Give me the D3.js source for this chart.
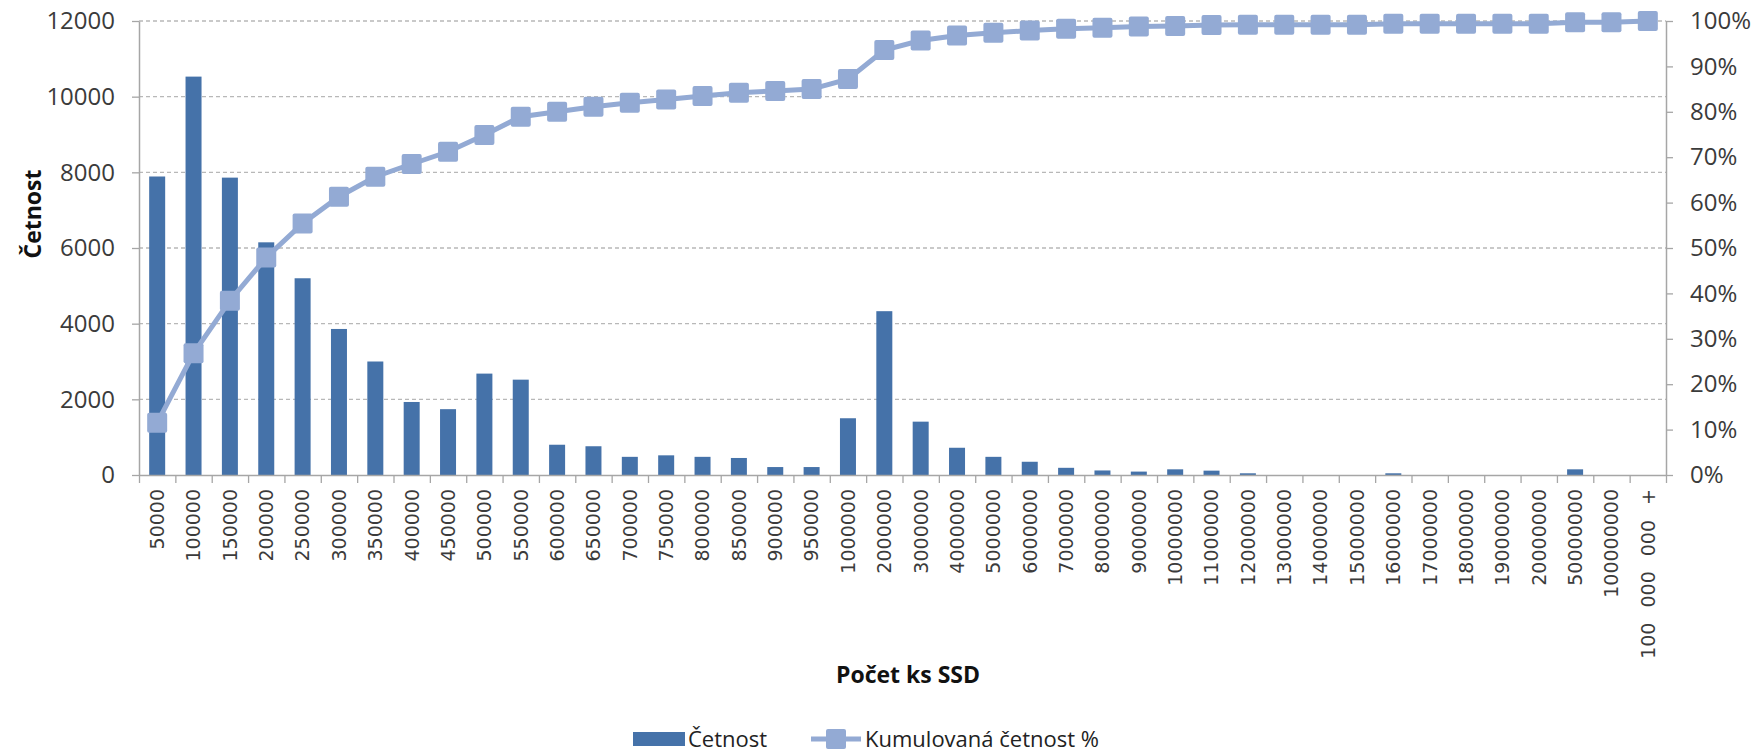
<!DOCTYPE html>
<html>
<head>
<meta charset="utf-8">
<script src="https://cdn.jsdelivr.net/npm/d3@7"></script>
<style>
  body { margin: 0; background: #fff; }
  svg { display: block; }
</style>
</head>
<body>
<svg id="chart"></svg>
<script>
// categories - Počet ks SSD
const categories = ['50000','100000','150000','200000','250000','300000','350000','400000','450000','500000',
  '550000','600000','650000','700000','750000','800000','850000','900000','950000','1000000',
  '2000000','3000000','4000000','5000000','6000000','7000000','8000000','9000000','10000000','11000000',
  '12000000','13000000','14000000','15000000','16000000','17000000','18000000','19000000','20000000','50000000',
  '100000000','100 000 000 +']

// četnost (bars, left axis)
const counts = [7890, 10530, 7860, 6150, 5200, 3860, 3000, 1930, 1740, 2680,
  2520, 800, 760, 480, 520, 480, 450, 210, 210, 1500,
  4330, 1410, 720, 480, 350, 190, 120, 90, 150, 115,
  45, 0, 0, 0, 45, 0, 0, 0, 0, 150,
  0, 0]

// kumulovaná četnost % (line, right axis)
const cumulative = [11.5, 26.8, 38.4, 47.9, 55.4, 61.3, 65.7, 68.5, 71.2, 74.9,
  78.9, 80.0, 81.1, 82.0, 82.7, 83.5, 84.2, 84.6, 85.0, 87.2,
  93.6, 95.7, 96.8, 97.4, 97.9, 98.3, 98.5, 98.8, 98.9, 99.1,
  99.2, 99.2, 99.2, 99.2, 99.4, 99.4, 99.4, 99.4, 99.4, 99.7,
  99.7, 100]

const leftTicks = [0, 2000, 4000, 6000, 8000, 10000, 12000]
const rightTicks = [0, 10, 20, 30, 40, 50, 60, 70, 80, 90, 100]

const seriesNames = ['Četnost', 'Kumulovaná četnost %']
const xTitle = 'Počet ks SSD'
const yTitle = 'Četnost'

// canvas
const w = 1754
const h = 754
const plotLeft = 139, plotRight = 1666, plotTop = 21, plotBottom = 475

const barColor = '#4572a9'
const lineColor = '#93aad4'
const axisColor = '#a6a6a6'
const textColor = '#3b3b3b'

const svg = d3.select('#chart').attr('width', w).attr('height', h)

// scales
const x = d3.scaleBand().domain(categories).range([plotLeft, plotRight])
  .paddingInner(0.56).paddingOuter(0.28)
const xIdx = d3.scaleLinear().domain([0, categories.length]).range([plotLeft, plotRight])
const yL = d3.scaleLinear().domain([0, 12000]).range([plotBottom, plotTop])
const yR = d3.scaleLinear().domain([0, 100]).range([plotBottom, plotTop])
const cx = d => x(d) + x.bandwidth() / 2

// grid
svg.append('g')
  .selectAll('line')
  .data(leftTicks.filter(t => t > 0))
  .enter()
  .append('line')
  .attr('x1', plotLeft).attr('x2', plotRight)
  .attr('y1', d => yL(d)).attr('y2', d => yL(d))
  .attr('stroke', '#b8b8b8')
  .attr('stroke-width', 1.4)
  .attr('stroke-dasharray', '4,3')

// bars
svg.append('g')
  .selectAll('rect')
  .data(categories)
  .enter()
  .append('rect')
  .attr('x', d => x(d))
  .attr('width', x.bandwidth())
  .attr('y', (d, i) => yL(counts[i]))
  .attr('height', (d, i) => plotBottom - yL(counts[i]))
  .attr('fill', barColor)

// axes
const styleAxis = g => {
  g.select('.domain').attr('stroke', axisColor).attr('stroke-width', 1.5)
  g.selectAll('.tick line').attr('stroke', axisColor).attr('stroke-width', 1.3)
  g.selectAll('text').attr('fill', textColor)
}

svg.append('g')
  .attr('transform', 'translate(' + plotLeft + ',0)')
  .call(d3.axisLeft(yL).tickValues(leftTicks).tickFormat(d3.format('d')).tickSize(7).tickPadding(17).tickSizeOuter(0))
  .call(styleAxis)
  .selectAll('text')
  .style('font-family', '"Open Sans", sans-serif')
  .style('font-size', '24px')

svg.append('g')
  .attr('transform', 'translate(' + plotRight + ',0)')
  .call(d3.axisRight(yR).tickValues(rightTicks).tickFormat(d => d + '%').tickSize(7).tickPadding(17).tickSizeOuter(0))
  .call(styleAxis)
  .selectAll('text')
  .style('font-family', '"Open Sans", sans-serif')
  .style('font-size', '24px')

// x axis tick marks between categories
svg.append('g')
  .attr('transform', 'translate(0,' + plotBottom + ')')
  .call(d3.axisBottom(xIdx).tickValues(d3.range(categories.length + 1)).tickFormat('').tickSize(8).tickSizeOuter(0))
  .call(styleAxis)

// x labels, rotated
svg.append('g')
  .selectAll('text')
  .data(categories)
  .enter()
  .append('text')
  .attr('transform', d => 'translate(' + cx(d) + ',' + (plotBottom + 14) + ') rotate(-90)')
  .attr('text-anchor', 'end')
  .attr('dy', '0.36em')
  .attr('fill', textColor)
  .style('font-family', '"DejaVu Sans", sans-serif')
  .style('font-size', '19px')
  .style('word-spacing', '9px')
  .text(d => d)

// cumulative line
const line = d3.line()
  .x((d, i) => cx(categories[i]))
  .y(d => yR(d))

svg.append('path')
  .datum(cumulative)
  .attr('d', line)
  .attr('fill', 'none')
  .attr('stroke', lineColor)
  .attr('stroke-width', 5)

svg.append('g')
  .selectAll('rect')
  .data(cumulative)
  .enter()
  .append('rect')
  .attr('x', (d, i) => cx(categories[i]) - 10)
  .attr('y', d => yR(d) - 10)
  .attr('width', 20).attr('height', 20)
  .attr('rx', 2)
  .attr('fill', lineColor)

// titles
svg.append('text')
  .attr('transform', 'translate(33,214) rotate(-90)')
  .attr('text-anchor', 'middle')
  .attr('dy', '0.35em')
  .attr('fill', '#111')
  .style('font-family', '"Open Sans", sans-serif')
  .style('font-weight', 'bold')
  .style('font-size', '23px')
  .text(yTitle)

svg.append('text')
  .attr('x', 908).attr('y', 675)
  .attr('text-anchor', 'middle')
  .attr('dy', '0.35em')
  .attr('fill', '#111')
  .style('font-family', '"Open Sans", sans-serif')
  .style('font-weight', 'bold')
  .style('font-size', '23px')
  .text(xTitle)

// legend
const legend = svg.append('g').attr('transform', 'translate(0,739)')
legend.append('rect')
  .attr('x', 633).attr('y', -7).attr('width', 52).attr('height', 14)
  .attr('fill', barColor)
legend.append('text')
  .attr('x', 688).attr('dy', '0.35em')
  .attr('fill', '#222')
  .style('font-family', '"Open Sans", sans-serif')
  .style('font-size', '22px')
  .text(seriesNames[0])
legend.append('line')
  .attr('x1', 811).attr('x2', 861)
  .attr('stroke', lineColor).attr('stroke-width', 5)
legend.append('rect')
  .attr('x', 826).attr('y', -10).attr('width', 20).attr('height', 20).attr('rx', 2)
  .attr('fill', lineColor)
legend.append('text')
  .attr('x', 865).attr('dy', '0.35em')
  .attr('fill', '#222')
  .style('font-family', '"Open Sans", sans-serif')
  .style('font-size', '22px')
  .text(seriesNames[1])
</script>
</body>
</html>
